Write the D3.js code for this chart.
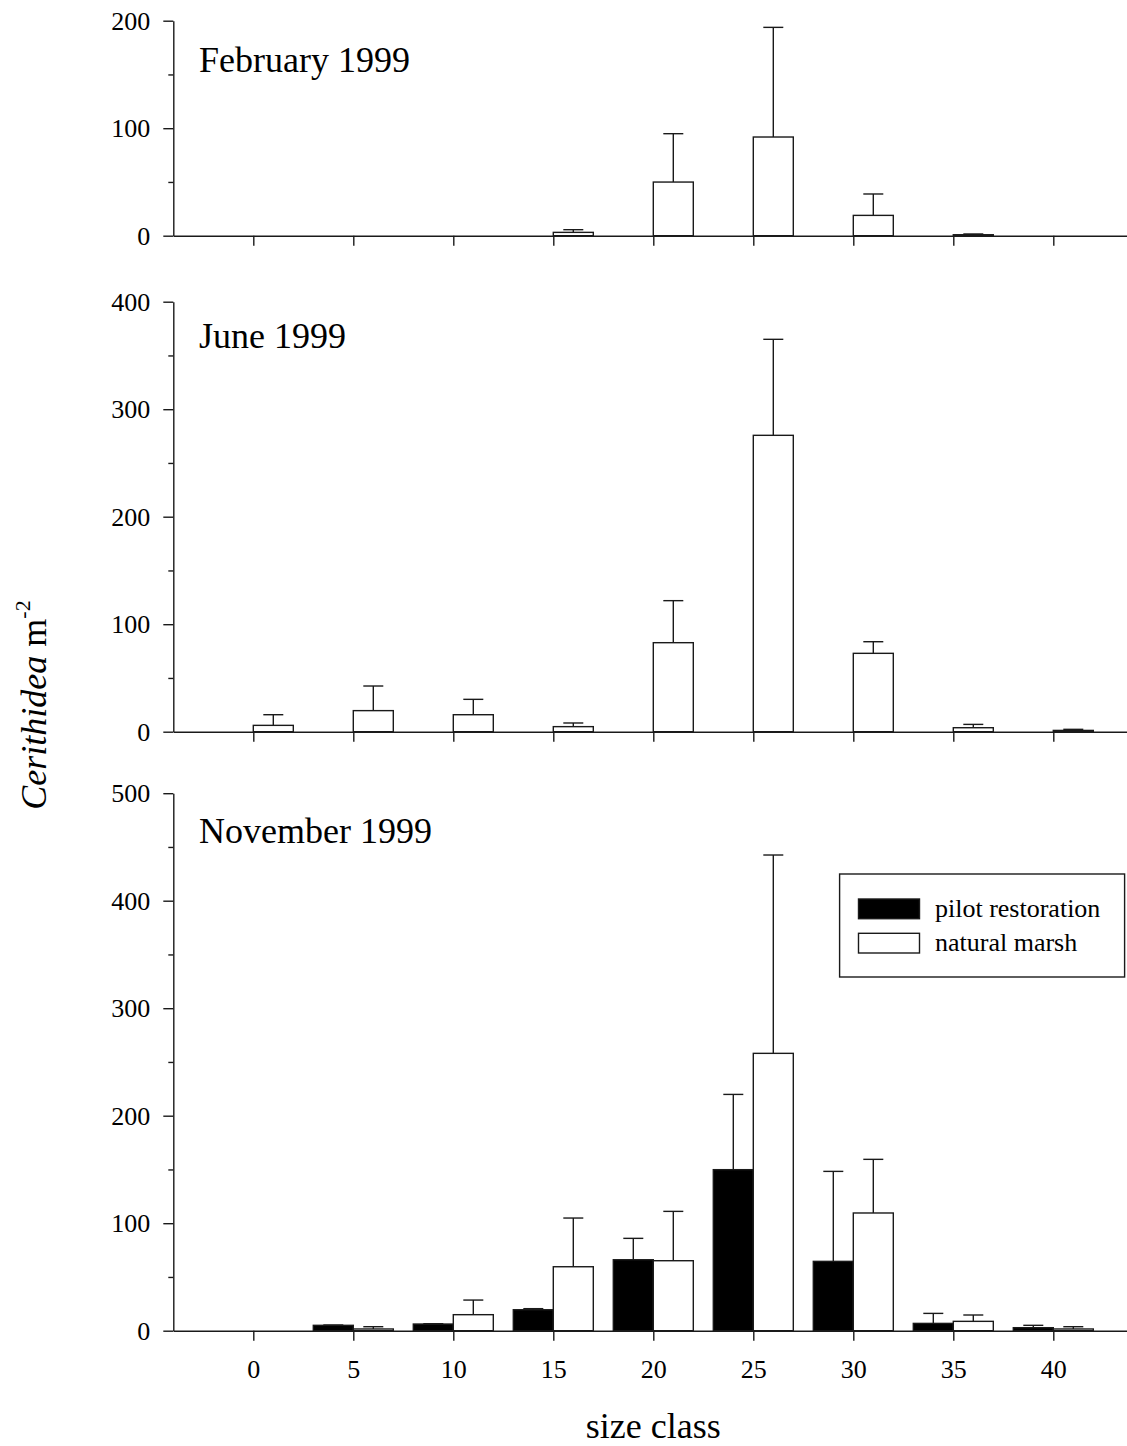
<!DOCTYPE html>
<html>
<head>
<meta charset="utf-8">
<script src="https://cdn.jsdelivr.net/npm/d3@7"></script>
<style>
  html, body { margin: 0; padding: 0; background: #fff; }
  svg { display: block; }
  svg text { font-family: "Liberation Serif", "Times New Roman", Times, serif !important; fill: #000; }
</style>
</head>
<body>
<div id="chart"></div>
<script>
// Size classes (mm) on the shared x axis
const sizeClasses = [0, 5, 10, 15, 20, 25, 30, 35, 40];

// February 1999 — natural marsh only: mean density and standard error
const febNatural    = [0, 0, 0, 3.1, 49.9, 91.8, 18.9, 0.9, 0];
const febNaturalSE  = [0, 0, 0, 2.5, 45.0, 102.0, 19.9, 0.7, 0];

// June 1999 — natural marsh only
const junNatural    = [5.9, 19.6, 15.8, 4.7, 82.8, 275.7, 72.9, 3.7, 1.2];
const junNaturalSE  = [9.9, 22.9, 14.3, 3.4, 39.1, 89.3, 10.8, 3.1, 1.0];

// November 1999 — pilot restoration and natural marsh
const novPilot      = [0, 5.0, 6.2, 19.5, 66.0, 149.8, 64.5, 6.8, 2.8];
const novPilotSE    = [0, 0.3, 0.3, 1.0, 19.9, 70.0, 83.7, 9.3, 2.2];
const novNatural    = [0, 1.6, 14.9, 59.5, 65.1, 258.0, 109.5, 8.7, 1.6];
const novNaturalSE  = [0, 2.1, 13.6, 45.3, 45.9, 184.5, 49.9, 5.9, 2.1];

// Y-axis ticks for each panel
const febTicks = [0, 100, 200];
const junTicks = [0, 100, 200, 300, 400];
const novTicks = [0, 100, 200, 300, 400, 500];

const seriesNames = ["pilot restoration", "natural marsh"];
const panelTitles = ["February 1999", "June 1999", "November 1999"];

const W = 1127, H = 1446;
const pxPerUnit = 1.075;
const axisX = 173.3;
const serif = '"Liberation Serif", "Times New Roman", Times, serif';

const svg = d3.select("#chart").append("svg")
  .attr("width", W).attr("height", H)
  .style("font-family", serif);

const x = d3.scaleLinear().domain([-4, 44]).range([axisX, axisX + 960]);
const barW = x(2) - x(0);
const capHalf = barW / 4;

const panels = [
  { title: panelTitles[0], ticks: febTicks, zeroY: 235.7, titleY: 71.7, labels: false,
    series: [{ vals: febNatural, se: febNaturalSE, fill: "#fff", offset: 0 }] },
  { title: panelTitles[1], ticks: junTicks, zeroY: 731.7, titleY: 348.3, labels: false,
    series: [{ vals: junNatural, se: junNaturalSE, fill: "#fff", offset: 0 }] },
  { title: panelTitles[2], ticks: novTicks, zeroY: 1330.7, titleY: 843.3, labels: true,
    series: [{ vals: novPilot, se: novPilotSE, fill: "#000", offset: -2 },
             { vals: novNatural, se: novNaturalSE, fill: "#fff", offset: 0 }] }
];

const stroke = "#1a1a1a";
const sw = 1.4;

function styleTickText(sel) {
  sel.attr("font-size", null).attr("font-family", null)
    .style("font-family", serif).style("font-size", "26px").attr("fill", "#000");
}

panels.forEach(p => {
  const maxV = p.ticks[p.ticks.length - 1];
  const y = d3.scaleLinear().domain([0, maxV]).range([p.zeroY, p.zeroY - maxV * pxPerUnit]);
  const g = svg.append("g");

  // minor ticks at the halfway points
  const minor = d3.range(50, maxV, 100);
  g.append("g").attr("transform", `translate(${axisX},0)`)
    .call(d3.axisLeft(y).tickValues(minor).tickSize(5).tickSizeOuter(0).tickFormat(""))
    .call(a => a.select(".domain").remove())
    .call(a => a.selectAll("line").attr("stroke", stroke).attr("stroke-width", sw));

  // major ticks with labels
  g.append("g").attr("transform", `translate(${axisX},0)`)
    .call(d3.axisLeft(y).tickValues(p.ticks).tickSize(10).tickSizeOuter(0).tickPadding(13))
    .attr("font-family", null).attr("font-size", null)
    .call(a => a.select(".domain").attr("stroke", stroke).attr("stroke-width", sw))
    .call(a => a.selectAll("line").attr("stroke", stroke).attr("stroke-width", sw))
    .call(a => styleTickText(a.selectAll("text")));

  // bars
  p.series.forEach(s => {
    const data = sizeClasses.map((c, i) => ({ c, v: s.vals[i], e: s.se[i] }));
    g.append("g").selectAll("rect")
      .data(data.filter(d => d.v > 0))
      .join("rect")
      .attr("x", d => x(d.c + s.offset))
      .attr("width", barW)
      .attr("y", d => y(d.v))
      .attr("height", d => y(0) - y(d.v))
      .attr("fill", s.fill)
      .attr("stroke", stroke)
      .attr("stroke-width", sw);

    // upper standard-error whiskers
    const eb = g.append("g").selectAll("g")
      .data(data.filter(d => d.v > 0 && d.e > 0))
      .join("g");
    eb.append("line")
      .attr("x1", d => x(d.c + s.offset + 1)).attr("x2", d => x(d.c + s.offset + 1))
      .attr("y1", d => y(d.v)).attr("y2", d => y(d.v + d.e))
      .attr("stroke", stroke).attr("stroke-width", sw);
    eb.append("line")
      .attr("x1", d => x(d.c + s.offset + 1) - capHalf).attr("x2", d => x(d.c + s.offset + 1) + capHalf)
      .attr("y1", d => y(d.v + d.e)).attr("y2", d => y(d.v + d.e))
      .attr("stroke", stroke).attr("stroke-width", sw);
  });

  // x axis along zero
  const xa = g.append("g").attr("transform", `translate(0,${p.zeroY})`)
    .call(d3.axisBottom(x).tickValues(sizeClasses).tickSize(10).tickSizeOuter(0))
    .attr("font-family", null).attr("font-size", null)
    .call(a => a.select(".domain").attr("stroke", stroke).attr("stroke-width", sw))
    .call(a => a.selectAll("line").attr("stroke", stroke).attr("stroke-width", sw));
  if (p.labels) {
    xa.selectAll("text").attr("dy", null).attr("y", 47).call(styleTickText);
  } else {
    xa.selectAll("text").remove();
  }

  // panel title
  g.append("text").attr("x", 199).attr("y", p.titleY)
    .style("font-size", "36px").text(p.title);
});

// legend for the November panel
const legend = svg.append("g");
legend.append("rect").attr("x", 839.6).attr("y", 874).attr("width", 285).attr("height", 103)
  .attr("fill", "#fff").attr("stroke", stroke).attr("stroke-width", sw);
const legFills = ["#000", "#fff"];
seriesNames.forEach((name, i) => {
  const yy = 899 + i * 34.3;
  legend.append("rect").attr("x", 858.5).attr("y", yy).attr("width", 61).attr("height", 19.7)
    .attr("fill", legFills[i]).attr("stroke", stroke).attr("stroke-width", sw);
  legend.append("text").attr("x", 935).attr("y", yy + 18).style("font-size", "26px").text(name);
});

// axis titles
svg.append("text").attr("x", 653.3).attr("y", 1438).attr("text-anchor", "middle")
  .style("font-size", "36px").text("size class");

const yt = svg.append("text")
  .attr("transform", "translate(46,705) rotate(-90)")
  .attr("text-anchor", "middle").style("font-size", "36px");
yt.append("tspan").attr("font-style", "italic").text("Cerithidea");
yt.append("tspan").text(" m");
yt.append("tspan").style("font-size", "22px").attr("dy", -16).text("-2");
</script>
</body>
</html>
